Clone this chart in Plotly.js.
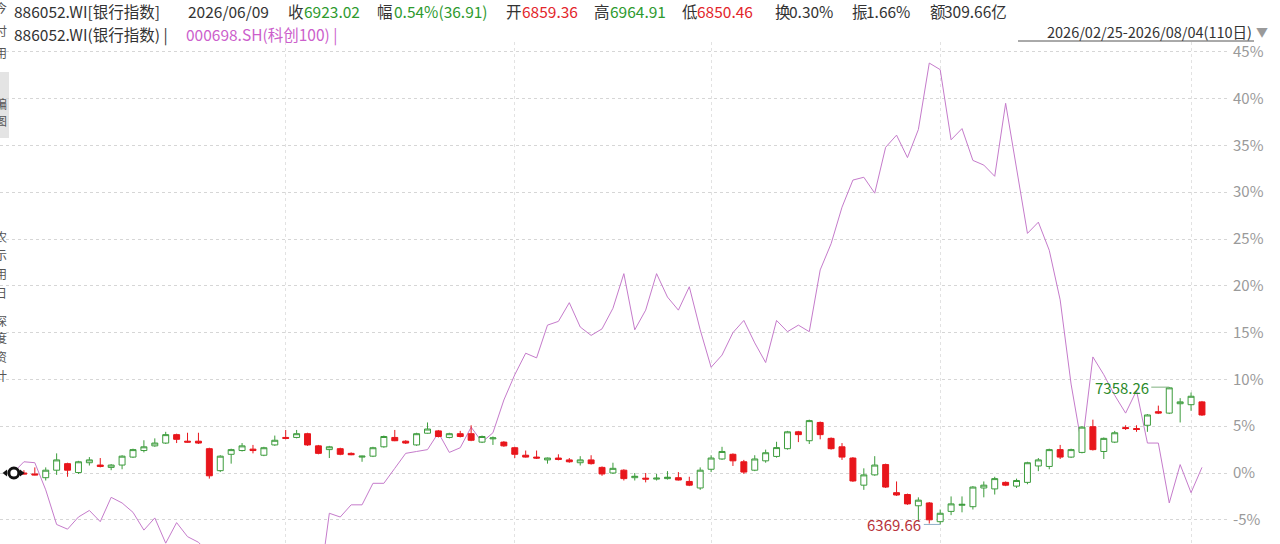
<!DOCTYPE html>
<html><head><meta charset="utf-8">
<script src="https://cdn.plot.ly/plotly-3.0.1.min.js"></script>
<style>html,body{margin:0;padding:0;background:#fff;}#chart{width:1280px;height:544px;}</style>
</head><body><div id="chart"></div>
<script>
// 886052.WI 银行指数 daily OHLC, 2026/02/25 - 2026/08/04 (110 trading days)
const bankOpen = [6750.1,6740.0,6733.3,6706.3,6760.2,6807.4,6743.4,6814.1,6797.3,6780.4,
6797.3,6854.6,6901.8,6935.5,6955.7,7016.3,6969.2,6969.2,6915.2,6756.9,
6874.8,6901.8,6911.9,6868.1,6942.2,6996.1,6996.1,7023.1,6935.5,6908.5,
6915.2,6881.5,6854.6,6861.3,6928.7,6996.1,6969.2,6942.2,7026.5,7043.3,
6996.1,7023.1,7023.1,6962.4,6986.0,6962.4,6922.0,6868.1,6854.6,6834.4,
6847.8,6834.4,6814.1,6834.4,6780.4,6740.0,6760.2,6706.3,6702.9,6696.2,
6699.6,6706.3,6679.3,6632.2,6767.0,6841.1,6874.8,6820.9,6760.2,6827.6,
6859.36,6915.2,7036.6,6972.5,7104.0,6989.4,6928.7,6847.8,6652.4,6726.5,
6800.7,6598.5,6585.0,6504.1,6524.3,6389.5,6463.7,6507.5,6497.4,6632.2,
6625.4,6672.6,6645.6,6672.6,6790.6,6787.2,6908.5,6854.6,6888.3,7073.6,
6895.0,6962.4,7066.9,7060.2,7083.7,7181.5,7171.4,7238.8,7232.0,7252.2];
const bankHigh = [6773.7,6760.2,6780.4,6780.4,6881.5,6814.1,6827.6,6854.6,6847.8,6804.0,
6868.1,6915.2,6975.9,6989.4,7036.6,7023.1,7029.8,7029.8,6922.0,6868.1,
6915.2,6955.7,6942.2,6928.7,7009.6,7050.0,7050.0,7029.8,6942.2,6935.5,
6922.0,6888.3,6864.7,6928.7,7009.6,7050.0,6975.9,7029.8,7104.0,7050.0,
7029.8,7043.3,7083.7,7009.6,7002.9,6969.2,6928.7,6901.8,6901.8,6851.2,
6874.8,6847.8,6861.3,6868.1,6787.2,6814.1,6767.0,6740.0,6740.0,6733.3,
6753.5,6746.7,6713.0,6780.4,6868.1,6928.7,6881.5,6834.4,6868.1,6908.5,
6964.91,7043.3,7043.3,7124.2,7110.7,6996.1,6955.7,6854.6,6773.7,6861.3,
6807.4,6679.3,6591.7,6564.8,6531.1,6477.1,6571.5,6571.5,6645.6,6679.3,
6713.0,6679.3,6699.6,6820.9,6847.8,6915.2,6942.2,6915.2,7077.0,7124.2,
6996.1,7043.3,7083.7,7083.7,7164.6,7225.3,7358.26,7279.2,7319.6,7259.0];
const bankLow = [6726.5,6729.9,6723.2,6686.1,6726.5,6713.0,6733.3,6793.9,6780.4,6760.2,
6767.0,6847.8,6888.3,6928.7,6948.9,6955.7,6959.1,6948.9,6699.6,6746.7,
6807.4,6895.0,6881.5,6861.3,6935.5,6982.6,6989.4,6935.5,6874.8,6847.8,
6868.1,6868.1,6820.9,6854.6,6922.0,6969.2,6948.9,6935.5,7023.1,6996.1,
6989.4,6996.1,6969.2,6955.7,6942.2,6928.7,6847.8,6851.2,6841.1,6807.4,
6831.0,6814.1,6793.9,6800.7,6719.8,6733.3,6686.1,6686.1,6672.6,6686.1,
6692.8,6686.1,6645.6,6618.7,6746.7,6834.4,6790.6,6733.3,6753.5,6814.1,
6850.46,6908.5,6962.4,6948.9,6982.6,6908.5,6834.4,6676.0,6618.7,6719.8,
6632.2,6574.9,6510.8,6389.5,6376.0,6369.66,6436.7,6456.9,6477.1,6564.8,
6585.0,6645.6,6632.2,6659.1,6753.5,6767.0,6841.1,6847.8,6881.5,6901.8,
6841.1,6955.7,7050.0,7036.6,7036.6,7164.6,7164.6,7104.0,7188.2,7151.1];
const bankClose = [6740.0,6733.3,6726.5,6760.2,6834.4,6760.2,6820.9,6834.4,6787.2,6797.3,
6861.3,6908.5,6928.7,6955.7,7016.3,6982.6,6962.4,6955.7,6719.8,6861.3,
6908.5,6935.5,6901.8,6922.0,6975.9,6989.4,7023.1,6942.2,6881.5,6928.7,
6874.8,6871.4,6861.3,6922.0,7002.9,6972.5,6955.7,7023.1,7056.8,7002.9,
7023.1,7002.9,6975.9,7002.9,6992.8,6935.5,6874.8,6854.6,6847.8,6847.8,
6837.7,6820.9,6834.4,6807.4,6733.3,6773.7,6699.6,6716.4,6696.2,6702.9,
6709.7,6689.5,6652.4,6760.2,6847.8,6895.0,6827.6,6746.7,6841.1,6886.11,
6923.02,7036.6,7016.3,7117.4,7016.3,6915.2,6854.6,6682.7,6726.5,6797.3,
6638.9,6581.6,6517.6,6544.5,6403.0,6450.2,6517.6,6514.2,6638.9,6652.4,
6699.6,6652.4,6686.1,6814.1,6834.4,6908.5,6854.6,6908.5,7070.3,6908.5,
6989.4,7029.8,7060.2,7053.4,7157.9,7171.4,7353.3,7252.2,7292.7,7157.9];
// 000698.SH 科创100, % change from the first day
const kc100Pct = [0,1.2,1.1,-1.8,-5.5,-6.0,-4.7,-4.0,-5.2,-2.6,
-3.2,-4.2,-6.1,-4.8,-7.5,-5.3,-6.8,-7.4,-8.6,-9.8,
-10.6,-9.5,-11.2,-12.0,-10.8,-11.6,-12.5,-11.0,-13.0,-4.3,
-4.7,-3.4,-3.4,-1.1,-1.1,0.5,2.1,2.3,2.5,4.3,
2.2,2.7,4.9,3.3,4.3,7.8,10.5,12.8,12.3,15.8,
16.2,18.2,15.6,14.7,15.4,17.6,21.3,15.3,17.4,21.3,
18.8,17.4,19.9,15.3,11.3,12.6,15.0,16.3,13.9,11.8,
16.3,15.1,15.8,15.1,21.7,24.5,28.4,31.3,31.6,29.9,
34.8,36.1,33.7,36.7,43.8,43.1,35.6,36.8,33.4,32.9,
31.7,39.5,32.7,25.6,26.8,23.8,18.5,9.5,2.8,12.4,
10.5,8.3,6.4,8.8,3.2,3.2,-3.2,0.9,-2.1,0.6];
const basePrice = 6740;          // bank index level equal to 0%
const monthStarts = [25,46,64,85,108];
const pctTicks = [-5,0,5,10,15,20,25,30,35,40,45];
const pctTickText = ['-5%','0%','5%','10%','15%','20%','25%','30%','35%','40%','45%'];
const lowIdx = 85, highIdx = 106;

const idx = bankClose.map((_, i) => i);
const yLo = -7.585, yHi = 46.05;
const W = 1280, H = 544, ML = 0, MR = 52, MT = 42, MB = 0;
const PW = W - ML - MR, PH = H - MT - MB;
const px = x => (x - ML) / PW;
const py = y => (H - MB - y) / PH;
const FONT = '"Noto Sans CJK SC", "Noto Sans", sans-serif';
const GREEN = '#2e9a2e', RED = '#e3262b', DARK = '#333333', PINK = '#c57bcb';

const traces = [
  {type:'candlestick', x: idx, open: bankOpen, high: bankHigh, low: bankLow, close: bankClose,
   yaxis:'y2', whiskerwidth:0, hoverinfo:'skip',
   increasing:{line:{color:'#3c9c3c', width:1}, fillcolor:'#ffffff'},
   decreasing:{line:{color:'#e8161c', width:1}, fillcolor:'#e8161c'}},
  {type:'scatter', mode:'lines', x: idx, y: kc100Pct, line:{color:PINK, width:1}, hoverinfo:'skip'},
  {type:'scatter', mode:'markers', x:[-0.68, 0.78], y:[bankClose[0], bankClose[0]], yaxis:'y2', hoverinfo:'skip',
   marker:{symbol:['triangle-left','triangle-right'], size:6, color:'#111'}},
  {type:'scatter', mode:'markers', x:[0.08], y:[bankClose[0]], yaxis:'y2', hoverinfo:'skip',
   marker:{symbol:'circle', size:10, color:'#ffffff', line:{color:'#111', width:3}}}
];

function t(xpx, ypx, text, color, size, anchor) {
  return {xref:'paper', yref:'paper', x: px(xpx), y: py(ypx), text: text, showarrow:false,
          xanchor: anchor || 'left', yanchor:'middle', font:{family:FONT, size: size || 15.5, color: color}};
}
const L1 = 11, L2 = 34;
const annos = [
  t(12,L1,'886052.WI[银行指数]',DARK), t(186,L1,'2026/06/09',DARK),
  t(286,L1,'收',DARK), t(302,L1,'6923.02',GREEN),
  t(375,L1,'幅',DARK), t(392,L1,'0.54%(36.91)',GREEN),
  t(504,L1,'开',DARK), t(520,L1,'6859.36',RED),
  t(592,L1,'高',DARK), t(608,L1,'6964.91',GREEN),
  t(680,L1,'低',DARK), t(695,L1,'6850.46',RED),
  t(773,L1,'换',DARK), t(787,L1,'0.30%',DARK),
  t(850,L1,'振',DARK), t(864,L1,'1.66%',DARK),
  t(928,L1,'额',DARK), t(942,L1,'309.66亿',DARK),
  t(12,L2,'886052.WI(银行指数) |',DARK), t(184,L2,'000698.SH(科创100) |','#cc5fcc'),
  t(1254,31,'2026/02/25-2026/08/04(110日)',DARK,14.5,'right'),
  t(1270,31,'▼','#9a9a9a',12,'right'),
  {x: lowIdx - 1.55, y: bankLow[lowIdx], xref:'x', yref:'y2', text: bankLow[lowIdx].toFixed(2), showarrow:false,
   xanchor:'right', yanchor:'middle', font:{family:FONT, size:15, color:'#b8323a'}},
  {x: highIdx - 1.7, y: bankHigh[highIdx], xref:'x', yref:'y2', text: bankHigh[highIdx].toFixed(2), showarrow:false,
   xanchor:'right', yanchor:'middle', font:{family:FONT, size:15, color:'#2a8a2a'}}
];
// clipped side-toolbar characters on the far left
const sideChars = [['今',7],['付',30],['用',53],['编',103],['图',121],['农',236],['示',255],['用',273],['日',292],['深',320],['度',338],['资',356],['计',375]];
sideChars.forEach(([c, y]) => annos.push(t(1, y, c, '#555', 12, 'center')));

const shapes = [
  {type:'rect', xref:'paper', yref:'paper', x0: px(0), x1: px(9), y0: py(138), y1: py(72), fillcolor:'#e4e4e4', line:{width:0}, layer:'below'},
  {type:'line', xref:'paper', yref:'paper', x0: px(1018), x1: px(1254), y0: py(41), y1: py(41), line:{color:'#555', width:1}},
  {type:'line', xref:'x', yref:'y2', x0: lowIdx - 1.5, x1: lowIdx, y0: bankLow[lowIdx], y1: bankLow[lowIdx], line:{color:'#8fb0c8', width:1}},
  {type:'line', xref:'x', yref:'y2', x0: highIdx - 1.65, x1: highIdx, y0: bankHigh[highIdx], y1: bankHigh[highIdx], line:{color:'#7fb07f', width:1}}
];

const layout = {
  width: W, height: H, margin:{l:ML, r:MR, t:MT, b:MB, pad:0},
  paper_bgcolor:'#ffffff', plot_bgcolor:'#ffffff', showlegend:false, boxgap:0.22,
  xaxis:{range:[-13/10.908, (PW-13)/10.908], tickvals: monthStarts, showticklabels:false, ticks:'',
         showgrid:true, gridcolor:'#e2e2e2', griddash:'dot', gridwidth:1, zeroline:false, showline:false,
         rangeslider:{visible:false}, fixedrange:true},
  yaxis:{side:'right', range:[yLo, yHi], tickvals: pctTicks, ticktext: pctTickText, ticks:'', ticklabelstandoff:4,
         tickfont:{family:FONT, size:15, color:'#9a9a9a'}, showgrid:true, gridcolor:'#d6d6d6', griddash:'dot',
         zeroline:false, showline:false, fixedrange:true},
  yaxis2:{overlaying:'y', side:'right', visible:false, range:[basePrice*(1+yLo/100), basePrice*(1+yHi/100)], fixedrange:true},
  annotations: annos, shapes: shapes
};
Plotly.newPlot('chart', traces, layout, {displayModeBar:false, staticPlot:true});
</script></body></html>
